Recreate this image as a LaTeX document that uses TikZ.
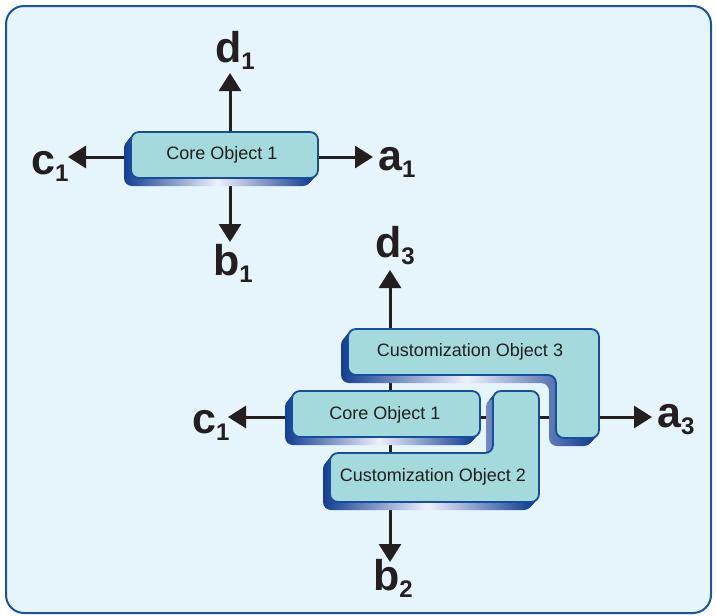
\documentclass[tikz,border=0pt]{standalone}
\usepackage{fontspec}
\setmainfont{Liberation Sans}
\usetikzlibrary{arrows.meta}
\definecolor{bgc}{RGB}{230,244,251}
\definecolor{framec}{RGB}{24,84,160}
\definecolor{facec}{RGB}{164,218,219}
\definecolor{edgec}{RGB}{22,78,158}
\definecolor{sdark}{RGB}{20,62,146}
\definecolor{slight}{RGB}{238,240,252}
\definecolor{ink}{RGB}{35,31,32}
\def\shpCoreA{(131,132) rectangle (318,178)}
\def\shpCoreB{(292,391) rectangle (480,437)}
\def\shpCustC{(348,329) -- (599,329) -- (599,438) -- (556,438) -- (556,375) -- (348,375) -- cycle}
\def\shpCustB{(493,391) -- (539,391) -- (539,502) -- (330,502) -- (330,453) -- (493,453) -- cycle}
\newcommand\solidobj[1]{%
  \foreach \i in {0.4,0.8,...,7.6}{\fill[sdark,rounded corners=8pt,shift={(-0.875*\i,\i)}] #1;}
  \shade[rounded corners=8pt,shift={(-7,8)},left color=sdark,right color=sdark,middle color=slight] #1;
  \filldraw[rounded corners=8pt,fill=facec,draw=edgec,line width=1.8pt] #1;
}
\newcommand\lsub[1]{\raisebox{-7pt}{\fontsize{24}{24}\selectfont #1}}
\tikzset{
  arr/.style={line width=3pt,draw=ink,-{Triangle[width=22pt,length=18pt]}},
  lab/.style={inner sep=0pt,anchor=base west,text=ink,font=\fontsize{43}{43}\selectfont\bfseries},
  otext/.style={inner sep=0pt,text=ink,font=\fontsize{18}{18}\selectfont},
}
\begin{document}
\begin{tikzpicture}[x=1pt,y=-1pt]
\useasboundingbox (0,0) rectangle (716,616);
\draw[draw=framec,line width=2pt,fill=bgc,rounded corners=18pt] (6,6) rectangle (711,613);
% centres and tips
\coordinate (ca) at (230,157);
\coordinate (d1tip) at (230,73);
\coordinate (b1tip) at (230,242);
\coordinate (c1tip) at (68,157);
\coordinate (a1tip) at (373,157);
\coordinate (cb) at (390,417);
\coordinate (d3tip) at (390,270);
\coordinate (b2tip) at (390,562);
\coordinate (c2tip) at (228,417);
\coordinate (a3tip) at (652,417);
% arrows (under the objects)
\draw[arr] (ca) -- (d1tip);
\draw[arr] (ca) -- (b1tip);
\draw[arr] (ca) -- (c1tip);
\draw[arr] (ca) -- (a1tip);
\draw[arr] (cb) -- (d3tip);
\draw[arr] (cb) -- (b2tip);
\draw[arr] (cb) -- (c2tip);
\draw[arr] (cb) -- (a3tip);
% objects
\solidobj{\shpCoreA}
\solidobj{\shpCustC}
\solidobj{\shpCoreB}
\solidobj{\shpCustB}
\node[otext] (core1) at (222,155) {Core Object 1};
\node[otext] (cust3) at (470,352) {Customization Object 3};
\node[otext] (core1b) at (385,415) {Core Object 1};
\node[otext] (cust2) at (433,477) {Customization Object 2};
% labels
\node[lab] (d1) at (215,62) {d\lsub{1}};
\node[lab] (c1) at (31,174) {c\lsub{1}};
\node[lab] (a1) at (378,170) {a\lsub{1}};
\node[lab] (b1) at (213,275) {b\lsub{1}};
\node[lab] (d3) at (375,257) {d\lsub{3}};
\node[lab] (c1b) at (192,433) {c\lsub{1}};
\node[lab] (a3) at (657,427) {a\lsub{3}};
\node[lab] (b2) at (373,590) {b\lsub{2}};
\end{tikzpicture}
\end{document}
